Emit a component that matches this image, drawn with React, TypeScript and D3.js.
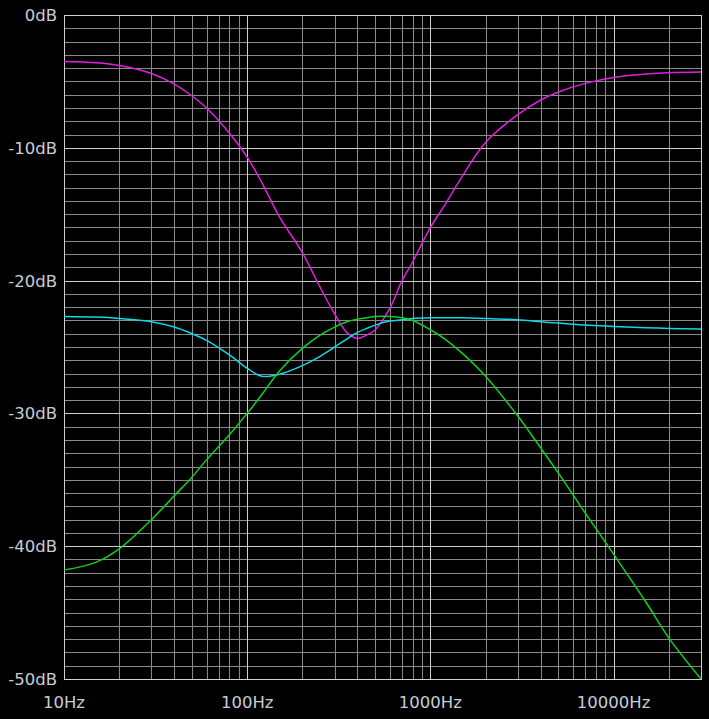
import React from "react";
import * as d3 from "d3";

const freqs = [10, 15, 20, 30, 40, 50, 60, 80, 100, 120, 150, 200, 250, 300, 350, 400, 450, 500, 600, 700, 800, 1000, 1200, 1500, 2000, 3000, 4000, 5000, 7000, 10000, 15000, 20000, 30000];

const magenta = [-3.5, -3.6, -3.8, -4.4, -5.2, -6.1, -7.0, -8.9, -10.7, -12.6, -15.2, -17.9, -20.5, -22.5, -23.9, -24.35, -24.1, -23.7, -22.1, -20.0, -18.6, -16.0, -14.3, -12.1, -9.6, -7.5, -6.4, -5.8, -5.15, -4.7, -4.45, -4.35, -4.3];

const cyan = [-22.7, -22.75, -22.85, -23.1, -23.5, -24.0, -24.5, -25.6, -26.6, -27.2, -27.05, -26.4, -25.7, -25.0, -24.4, -23.9, -23.6, -23.35, -23.05, -22.95, -22.85, -22.8, -22.8, -22.8, -22.85, -22.95, -23.1, -23.2, -23.35, -23.45, -23.55, -23.6, -23.65];

const green = [-41.8, -41.2, -40.2, -38.0, -36.2, -34.8, -33.5, -31.6, -30.0, -28.6, -26.8, -25.1, -24.1, -23.5, -23.1, -22.9, -22.8, -22.7, -22.7, -22.8, -23.0, -23.7, -24.4, -25.5, -27.2, -30.2, -32.6, -34.5, -37.5, -40.6, -44.2, -46.9, -50.7];

const yTicks = [0, -10, -20, -30, -40, -50];
const yTickLabels = ["0dB", "-10dB", "-20dB", "-30dB", "-40dB", "-50dB"];
const xTicks = [10, 100, 1000, 10000];
const xTickLabels = ["10Hz", "100Hz", "1000Hz", "10000Hz"];

const seriesList = [
  { name: "magenta", values: magenta, color: "#e020e0" },
  { name: "cyan", values: cyan, color: "#10d8e8" },
  { name: "green", values: green, color: "#10d020" },
];

const W = 709;
const H = 719;
const L = 64;
const R = 701;
const T = 15;
const B = 679;

export default function App() {
  const x = d3.scaleLog().domain([10, 30000]).range([L, R]);
  const y = d3.scaleLinear().domain([0, -50]).range([T, B]).clamp(true);

  const vLines: { v: number; major: boolean }[] = [];
  for (let dec = 10; dec <= 10000; dec *= 10) {
    for (let k = 1; k <= 9; k++) {
      const v = dec * k;
      if (v > 30000) break;
      vLines.push({ v, major: k === 1 });
    }
  }
  vLines.push({ v: 20000, major: false });
  const hLines: { v: number; major: boolean }[] = d3.range(0, -51, -1).map((v) => ({ v, major: v % 10 === 0 }));

  const line = d3
    .line<number>()
    .x((_, i) => x(freqs[i]))
    .y((d) => y(d))
    .curve(d3.curveCatmullRom.alpha(0.5));

  const px = (v: number) => Math.round(v) + 0.5;
  const minor = "#8a8a8a";
  const major = "#d0d0d0";

  return (
    <svg width={W} height={H} style={{ position: "absolute", left: 0, top: 0, display: "block" }}>
      <rect x={0} y={0} width={W} height={H} fill="#000" />
      <g shapeRendering="crispEdges">
        {hLines.filter((l) => !l.major).map((l) => (
          <line key={"h" + l.v} x1={L} x2={R} y1={px(y(l.v))} y2={px(y(l.v))} stroke={minor} strokeWidth={1} />
        ))}
        {vLines.filter((l) => !l.major).map((l) => (
          <line key={"v" + l.v} x1={px(x(l.v))} x2={px(x(l.v))} y1={T} y2={B} stroke={minor} strokeWidth={1} />
        ))}
        {hLines.filter((l) => l.major).map((l) => (
          <line key={"H" + l.v} x1={L} x2={R} y1={px(y(l.v))} y2={px(y(l.v))} stroke={major} strokeWidth={1} />
        ))}
        {vLines.filter((l) => l.major).map((l) => (
          <line key={"V" + l.v} x1={px(x(l.v))} x2={px(x(l.v))} y1={T} y2={B} stroke={major} strokeWidth={1} />
        ))}
        <rect x={px(L)} y={px(T)} width={px(R) - px(L)} height={px(B) - px(T)} fill="none" stroke={major} strokeWidth={1} />
      </g>
      <defs>
        <clipPath id="plotclip">
          <rect x={L} y={T - 1} width={R - L + 1} height={B - T + 2} />
        </clipPath>
      </defs>
      <g clipPath="url(#plotclip)">
        {seriesList.map((s) => (
          <path key={s.name} d={line(s.values) || ""} fill="none" stroke={s.color} strokeWidth={1.5} />
        ))}
      </g>
      <g fontFamily="'DejaVu Sans', Verdana, sans-serif" fontSize={16.5} fill="#c6ced6">
        {yTicks.map((t, i) => (
          <text key={"yt" + t} x={57} y={y(t)} dy="0.36em" textAnchor="end">
            {yTickLabels[i]}
          </text>
        ))}
        {xTicks.map((t, i) => (
          <text key={"xt" + t} x={x(t)} y={708} textAnchor="middle">
            {xTickLabels[i]}
          </text>
        ))}
      </g>
    </svg>
  );
}
